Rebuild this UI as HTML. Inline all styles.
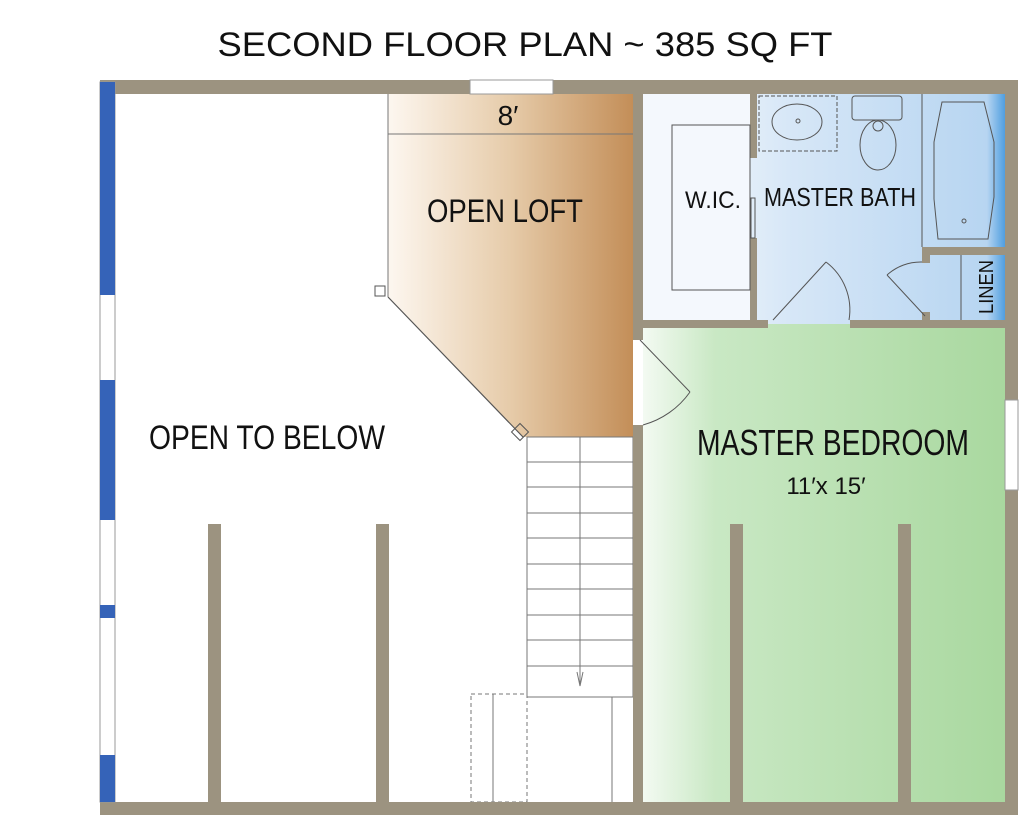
<!DOCTYPE html>
<html><head><meta charset="utf-8"><style>body{margin:0;background:#fff}svg{display:block}</style></head>
<body>
<svg width="1024" height="825" viewBox="0 0 1024 825" xmlns="http://www.w3.org/2000/svg" font-family="Liberation Sans, sans-serif">
<defs>
<linearGradient id="loft" x1="0" x2="1"><stop offset="0" stop-color="#fdf7f0"/><stop offset="0.5" stop-color="#e6cba9"/><stop offset="1" stop-color="#c38e58"/></linearGradient>
<linearGradient id="bath" x1="0" x2="1"><stop offset="0" stop-color="#ffffff"/><stop offset="0.4" stop-color="#d7e7f7"/><stop offset="0.95" stop-color="#b7d5f1"/><stop offset="1" stop-color="#4f9ee0"/></linearGradient>
<linearGradient id="bed" x1="0" x2="1"><stop offset="0" stop-color="#f3faf2"/><stop offset="0.2" stop-color="#c9e8c4"/><stop offset="1" stop-color="#a9d89f"/></linearGradient>
</defs>
<rect width="1024" height="825" fill="#fff"/>
<text x="525" y="56" font-size="34" text-anchor="middle" textLength="615" lengthAdjust="spacingAndGlyphs" fill="#111">SECOND FLOOR PLAN ~ 385 SQ FT</text>
<rect x="643" y="94" width="362" height="230" fill="url(#bath)"/>
<rect x="643" y="94" width="107" height="226" fill="#f4f8fd"/>
<rect x="643" y="324" width="362" height="478" fill="url(#bed)"/>
<polygon points="388,94 633,94 633,437 523,437 388,297" fill="url(#loft)"/>
<line x1="388" y1="297" x2="523" y2="437" stroke="#555" stroke-width="1.2"/>
<line x1="388" y1="94" x2="388" y2="297" stroke="#777" stroke-width="1"/>
<line x1="388" y1="134" x2="633" y2="134" stroke="#777" stroke-width="1"/>
<rect x="375" y="286" width="10" height="10" fill="none" stroke="#555"/>
<rect x="514" y="426" width="12" height="12" fill="none" stroke="#555" transform="rotate(45 520 432)"/>
<text x="508" y="125" font-size="28" text-anchor="middle" fill="#111">8′</text>
<text x="505" y="222" font-size="32" text-anchor="middle" textLength="156" lengthAdjust="spacingAndGlyphs" fill="#111">OPEN LOFT</text>
<g stroke="#777" stroke-width="1" fill="none">
<rect x="527" y="437" width="106" height="260"/>
<line x1="580" y1="437" x2="580" y2="685"/>
<line x1="612" y1="697" x2="612" y2="802"/>
<path d="M527 462H633M527 487H633M527 513H633M527 538H633M527 564H633M527 589H633M527 615H633M527 640H633M527 666H633"/>
<rect x="471" y="694" width="56" height="108" stroke-dasharray="4 3"/>
<line x1="493" y1="694" x2="493" y2="802"/>
<path d="M577 672L580 686L583 672"/>
</g>
<g fill="#9c9380">
<rect x="100" y="80" width="918" height="14"/>
<rect x="100" y="802" width="918" height="13"/>
<rect x="1005" y="80" width="13" height="735"/>
<rect x="633" y="94" width="10" height="246"/>
<rect x="633" y="425" width="10" height="377"/>
<rect x="643" y="320" width="125" height="8"/>
<rect x="850" y="320" width="155" height="8"/>
<rect x="750" y="94" width="7" height="64"/>
<rect x="750" y="238" width="7" height="82"/>
<rect x="922" y="247" width="83" height="8"/>
<rect x="922" y="255" width="8" height="8"/>
<rect x="922" y="312" width="8" height="8"/>
<rect x="208" y="524" width="13" height="278"/>
<rect x="376" y="524" width="13" height="278"/>
<rect x="730" y="524" width="13" height="278"/>
<rect x="898" y="524" width="13" height="278"/>
</g>
<rect x="470" y="80" width="83" height="14" fill="#fff" stroke="#999"/>
<rect x="1005" y="400" width="13" height="90" fill="#fff" stroke="#999"/>
<rect x="100" y="82" width="15" height="720" fill="#fff" stroke="#999"/>
<g fill="#3563b8">
<rect x="100" y="82" width="15" height="213"/>
<rect x="100" y="380" width="15" height="140"/>
<rect x="100" y="605" width="15" height="13"/>
<rect x="100" y="755" width="15" height="47"/>
</g>
<g stroke="#555" fill="none" stroke-width="1">
<rect x="759" y="96" width="78" height="55" stroke-dasharray="4 2"/>
<ellipse cx="797" cy="122" rx="25" ry="18"/><circle cx="798" cy="121" r="2"/>
<rect x="852" y="96" width="50" height="24" rx="3"/>
<ellipse cx="878" cy="145" rx="18" ry="25"/><circle cx="878" cy="126" r="5"/>
<line x1="922" y1="94" x2="922" y2="247"/>
<path d="M942 102h42l10 40v55l-6 42h-50l-4-40v-57z"/><circle cx="964" cy="221" r="2"/>
<line x1="961" y1="255" x2="961" y2="320"/>
<rect x="672" y="125" width="78" height="165"/>
<rect x="751" y="198" width="4" height="40"/>
<path d="M773 320L826 262M826 262A60 60 0 0 1 849 320"/>
<path d="M887 275L925 316M887 275A50 50 0 0 1 922 262"/>
<path d="M640 340L690 392M690 392A85 85 0 0 1 643 425"/>
</g>
<text x="713" y="208" font-size="24" text-anchor="middle" textLength="56" lengthAdjust="spacingAndGlyphs" fill="#111">W.IC.</text>
<text x="840" y="206" font-size="26" text-anchor="middle" textLength="152" lengthAdjust="spacingAndGlyphs" fill="#111">MASTER BATH</text>
<text x="993" y="287" font-size="20" text-anchor="middle" textLength="54" lengthAdjust="spacingAndGlyphs" fill="#111" transform="rotate(-90 993 287)">LINEN</text>
<text x="833" y="455" font-size="36" text-anchor="middle" textLength="272" lengthAdjust="spacingAndGlyphs" fill="#111">MASTER BEDROOM</text>
<text x="826" y="494" font-size="24" text-anchor="middle" fill="#111">11′x 15′</text>
<text x="267" y="449" font-size="34" text-anchor="middle" textLength="236" lengthAdjust="spacingAndGlyphs" fill="#111">OPEN TO BELOW</text>
</svg>
</body></html>
